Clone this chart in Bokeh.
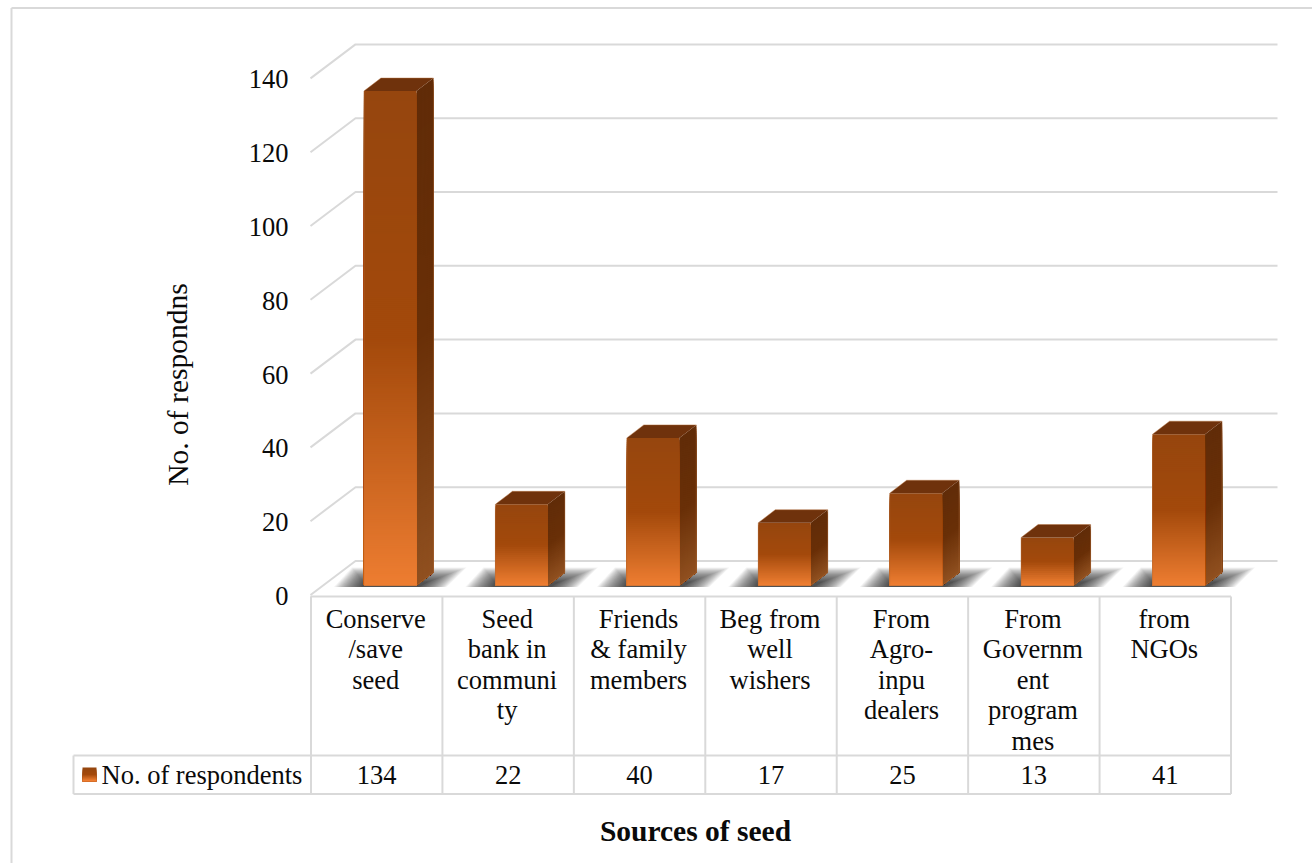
from bokeh.embed import file_html
from bokeh.models import ColumnDataSource, Range1d
from bokeh.plotting import figure
from bokeh.resources import INLINE
from bokeh.core.properties import value as fixed

# Survey values
categories = [
    "Conserve\n/save\nseed",
    "Seed\nbank in\ncommuni\nty",
    "Friends\n& family\nmembers",
    "Beg from\nwell\nwishers",
    "From\nAgro-\ninpu\ndealers",
    "From\nGovernm\nent\nprogram\nmes",
    "from\nNGOs",
]
respondents = [134, 22, 40, 17, 25, 13, 41]
y_ticks = [0, 20, 40, 60, 80, 100, 120, 140]
series_name = "No. of respondents"
y_title = "No. of respondns"
x_title = "Sources of seed"

# Plot geometry
W, H = 1312, 863
CAT_W = 131.43
UNIT = 3.69
X0, Y0 = 310.5, 594.5
FONT = "Liberation Serif"
GRID = "#d9d9d9"
INK = "#0a0a0a"
FS = "26.5px"


def sx(px):
    return (px - X0) / CAT_W


def sy(px):
    return (Y0 - px) / UNIT


def dx(px):
    return px / CAT_W


def dy(px):
    return px / UNIT


def mix(stops, t):
    for (t0, c0), (t1, c1) in zip(stops, stops[1:]):
        if t <= t1:
            f = (t - t0) / (t1 - t0)
            rgb = [round(a + (b - a) * f) for a, b in zip(c0, c1)]
            return "#%02x%02x%02x" % tuple(rgb)
    return "#%02x%02x%02x" % stops[-1][1]


FRONT = [(0, (0x96, 0x46, 0x0e)), (0.5, (0xa3, 0x49, 0x0b)), (1, (0xed, 0x7d, 0x31))]
SIDE = [(0, (0x61, 0x2c, 0x08)), (0.5, (0x69, 0x2f, 0x07)), (1, (0x90, 0x50, 0x20))]
TOP = "#6f320c"

p = figure(
    width=W, height=H,
    x_range=Range1d(sx(0), sx(W)), y_range=Range1d(sy(H), sy(0)),
    output_backend="svg", toolbar_location=None,
    min_border=0, outline_line_color=None, background_fill_color="white",
    x_axis_location=None, y_axis_location=None,
)
p.grid.visible = False

# Outer chart border
p.line([sx(11), sx(11)], [sy(H), sy(7.5)], line_color=GRID, line_width=2)
p.line([sx(11), sx(W)], [sy(7.5), sy(7.5)], line_color=GRID, line_width=2)

# Back-wall gridlines with their slanted returns
DEPTH_X, DEPTH_Y = 45, 34
for t in y_ticks:
    p.line(
        [sx(310), sx(310) + dx(DEPTH_X), sx(1277)],
        [t, t + dy(DEPTH_Y), t + dy(DEPTH_Y)],
        line_color=GRID, line_width=2,
    )

# Bars: soft floor shadows, then front, side and top faces
BAR_W, SIDE_X, SIDE_Y = 52.5, 17, 13
BASE = dy(9.5)
centers = [i + 0.5 + dx(13.5) for i in range(len(respondents))]
half = dx(BAR_W / 2)

sh_xs, sh_ys = [], []
LAYERS = 32
for c in centers:
    a, b = c - half, c + half
    for k in range(LAYERS):
        t = 1 - (1 - k / (LAYERS - 1)) ** 1.3
        top = BASE + dy(18 - 15 * t)
        low = BASE - dy(1.5)
        sh_xs.append([a - dx(30 - 28 * t), b + dx(30 - 28 * t), b + dx(50 - 40 * t), a - dx(12 - 12 * t)])
        sh_ys.append([low, low, top, top])
p.patches(sh_xs, sh_ys, fill_color="#2f2f2f", fill_alpha=0.055, line_color=None)

fl, fr, fb, ft, fc = [], [], [], [], []
sx_, sy_, sc = [], [], []
tx, ty = [], []
ox, oy = [], []
for c, v in zip(centers, respondents):
    a, b = c - half, c + half
    steps = max(int(v * UNIT / 2), 2)
    for s in range(steps):
        level = v * (1 - s / steps)
        frac = s / (steps - 1)
        fl.append(a)
        fr.append(b)
        fb.append(BASE)
        ft.append(BASE + level)
        fc.append(mix(FRONT, frac))
        sx_.append([b, b + dx(SIDE_X), b + dx(SIDE_X), b])
        sy_.append([BASE, BASE + dy(SIDE_Y), BASE + level + dy(SIDE_Y), BASE + level])
        sc.append(mix(SIDE, frac))
    tx.append([a, b, b + dx(SIDE_X), a + dx(SIDE_X)])
    ty.append([BASE + v, BASE + v, BASE + v + dy(SIDE_Y), BASE + v + dy(SIDE_Y)])
    ox.append([a, a, a + dx(SIDE_X), b + dx(SIDE_X), b + dx(SIDE_X), b, a])
    oy.append([BASE, BASE + v, BASE + v + dy(SIDE_Y), BASE + v + dy(SIDE_Y), BASE + dy(SIDE_Y), BASE, BASE])
p.patches(sx_, sy_, fill_color=sc, line_color=None)
p.quad(left=fl, right=fr, bottom=fb, top=ft, fill_color=fc, line_color=None)
p.patches(tx, ty, fill_color=TOP, line_color=None)
# Thin lighter edge around each column
p.multi_line(ox, oy, line_color="#b5703f", line_alpha=0.45, line_width=1)

# Data table beneath the plot
n = len(respondents)
ROW_TOP, ROW_BOTTOM = 755, 793.5
TABLE_TOP = sy(596)
p.line([sx(310), n], [TABLE_TOP, TABLE_TOP], line_color=GRID, line_width=2)
p.multi_line(
    [[i, i] for i in range(n + 1)],
    [[TABLE_TOP, sy(ROW_BOTTOM)] for _ in range(n + 1)],
    line_color=GRID, line_width=2,
)
p.multi_line(
    [[sx(73), n], [sx(73), n], [sx(73), sx(73)]],
    [[sy(ROW_TOP), sy(ROW_TOP)], [sy(ROW_BOTTOM), sy(ROW_BOTTOM)], [sy(ROW_TOP), sy(ROW_BOTTOM)]],
    line_color=GRID, line_width=2,
)

# Legend key inside the table
KEY_STEPS = 7
for s in range(KEY_STEPS):
    f = s / (KEY_STEPS - 1)
    p.quad(left=sx(82), right=sx(96), top=sy(767 + 2 * s), bottom=sy(781), fill_color=mix(FRONT, f), line_color=None)

text_style = dict(text_font=fixed(FONT), text_font_size=FS, text_color=INK)

# Y tick labels
tick_src = ColumnDataSource(dict(x=[sx(288)] * len(y_ticks), y=y_ticks, t=[str(v) for v in y_ticks]))
p.text("x", "y", text="t", source=tick_src, text_align="right", text_baseline="middle", y_offset=1, **text_style)

# Category labels, one text per wrapped line
LINE = 30.5
cx, cy, ct = [], [], []
for i, label in enumerate(categories):
    for j, row in enumerate(label.split("\n")):
        cx.append(i + 0.5 - dx(1))
        cy.append(sy(618 + j * LINE))
        ct.append(row)
p.text(cx, cy, text=ct, text_align="center", text_baseline="middle", **text_style)

# Table values and series label
p.text([i + 0.5 for i in range(n)], [sy(774)] * n, text=[str(v) for v in respondents],
       text_align="center", text_baseline="middle", **text_style)
p.text([sx(101)], [sy(774)], text=[series_name], text_align="left", text_baseline="middle", **text_style)

# Axis titles
p.text([sx(177)], [sy(384)], text=[y_title], angle=1.5708, text_align="center", text_baseline="middle",
       text_font=fixed(FONT), text_font_size="29.5px", text_color=INK)
p.text([sx(695)], [sy(830)], text=[x_title], text_align="center", text_baseline="middle",
       text_font=fixed(FONT), text_font_size="29.5px", text_font_style="bold", text_color=INK)

open("out.html", "w").write(file_html(p, INLINE))
